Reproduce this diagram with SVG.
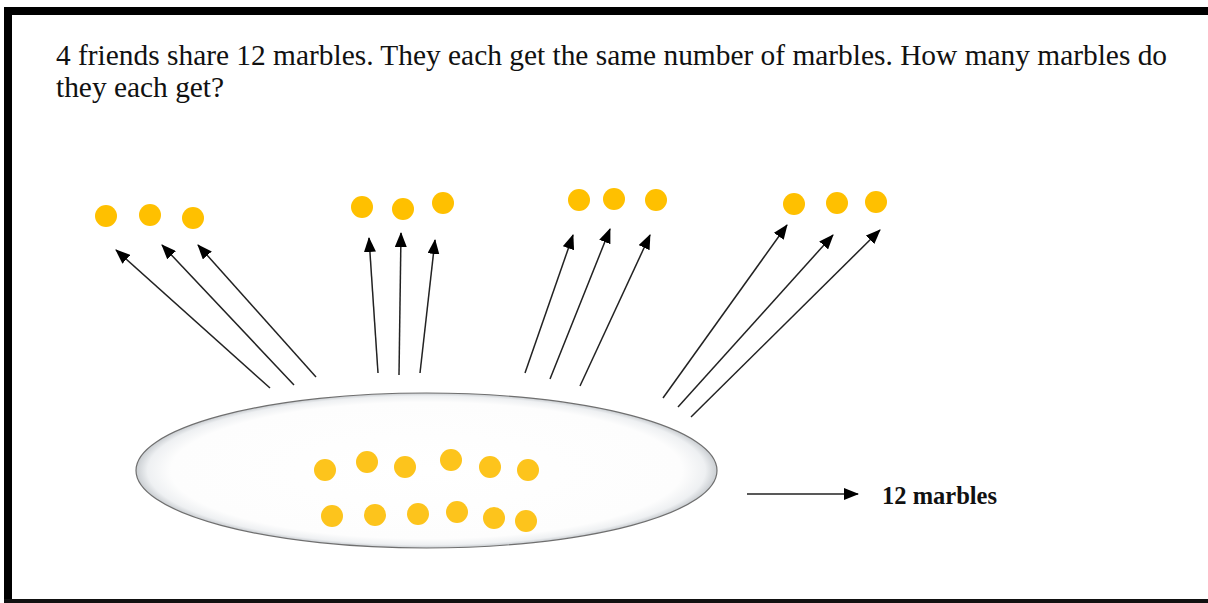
<svg xmlns="http://www.w3.org/2000/svg" width="1208" height="603" viewBox="0 0 1208 603">
  <defs>
    <style>
      .q { font-family: "Liberation Serif", "Times New Roman", serif; font-size: 29.4px; fill: #111; }
      .lbl { font-family: "Liberation Serif", "Times New Roman", serif; font-size: 24.5px; font-weight: bold; fill: #111; }
      .m { fill: #FFC000; }
      .mi { fill: #FDC41C; }
      .arr { stroke: #222; stroke-width: 1.5; fill: none; marker-end: url(#ah); }
    </style>
    <marker id="ah" markerUnits="userSpaceOnUse" markerWidth="15" markerHeight="12" viewBox="0 0 15 12" refX="14" refY="6" orient="auto">
      <path d="M0,0 L15,6 L0,12 Z" fill="#000"/>
    </marker>
    <radialGradient id="plate" cx="0.5" cy="0.5" r="0.5">
      <stop offset="0" stop-color="#ffffff"/>
      <stop offset="0.88" stop-color="#fdfdfd"/>
      <stop offset="0.96" stop-color="#eef0f2"/>
      <stop offset="1" stop-color="#c9cdd1"/>
    </radialGradient>
  </defs>
  <rect x="0" y="0" width="1208" height="603" fill="#fff"/>
  <!-- frame -->
  <rect x="4" y="7" width="8" height="596" fill="#000"/>
  <rect x="4" y="7" width="1204" height="8" fill="#000"/>
  <rect x="4" y="599" width="1204" height="4" fill="#111"/>

  <g id="question">
    <text class="q" x="56" y="65">4 friends share 12 marbles. They each get the same number of marbles. How many marbles do</text>
    <text class="q" x="56" y="97">they each get?</text>
  </g>

  <g id="plate-node">
    <ellipse cx="426.5" cy="470.5" rx="290.5" ry="77.5" fill="url(#plate)" stroke="#6f6f6f" stroke-width="1.2"/>
    <circle class="mi" cx="325" cy="470" r="11"/>
    <circle class="mi" cx="367" cy="462" r="11"/>
    <circle class="mi" cx="405" cy="467" r="11"/>
    <circle class="mi" cx="451" cy="460" r="11"/>
    <circle class="mi" cx="490" cy="467" r="11"/>
    <circle class="mi" cx="528" cy="470" r="11"/>
    <circle class="mi" cx="332" cy="516" r="11"/>
    <circle class="mi" cx="375" cy="515" r="11"/>
    <circle class="mi" cx="418" cy="514" r="11"/>
    <circle class="mi" cx="457" cy="512" r="11"/>
    <circle class="mi" cx="494" cy="518" r="11"/>
    <circle class="mi" cx="526" cy="521" r="11"/>
  </g>

  <g id="friend1">
    <circle class="m" cx="106" cy="216" r="11"/>
    <circle class="m" cx="150" cy="215" r="11"/>
    <circle class="m" cx="193" cy="218" r="11"/>
  </g>
  <g id="friend2">
    <circle class="m" cx="362" cy="207" r="11"/>
    <circle class="m" cx="403" cy="209" r="11"/>
    <circle class="m" cx="443" cy="203" r="11"/>
  </g>
  <g id="friend3">
    <circle class="m" cx="579" cy="200" r="11"/>
    <circle class="m" cx="614" cy="199" r="11"/>
    <circle class="m" cx="656" cy="200" r="11"/>
  </g>
  <g id="friend4">
    <circle class="m" cx="794" cy="204" r="11"/>
    <circle class="m" cx="837" cy="203" r="11"/>
    <circle class="m" cx="876" cy="202" r="11"/>
  </g>

  <g id="connectors">
    <line class="arr" x1="270" y1="388" x2="116" y2="250"/>
    <line class="arr" x1="294" y1="385" x2="162" y2="245"/>
    <line class="arr" x1="316" y1="377" x2="198" y2="245"/>
    <line class="arr" x1="378" y1="373" x2="369" y2="238"/>
    <line class="arr" x1="399" y1="375" x2="401" y2="233"/>
    <line class="arr" x1="420" y1="373" x2="435" y2="240"/>
    <line class="arr" x1="525" y1="373" x2="573" y2="235"/>
    <line class="arr" x1="550" y1="379" x2="610" y2="229"/>
    <line class="arr" x1="580" y1="386" x2="650" y2="235"/>
    <line class="arr" x1="663" y1="398" x2="787" y2="225"/>
    <line class="arr" x1="678" y1="407" x2="833" y2="235"/>
    <line class="arr" x1="691" y1="417" x2="880" y2="230"/>
    <line class="arr" x1="747" y1="494" x2="858" y2="494"/>
  </g>

  <g id="label">
    <text class="lbl" x="882" y="504">12 marbles</text>
  </g>
</svg>
